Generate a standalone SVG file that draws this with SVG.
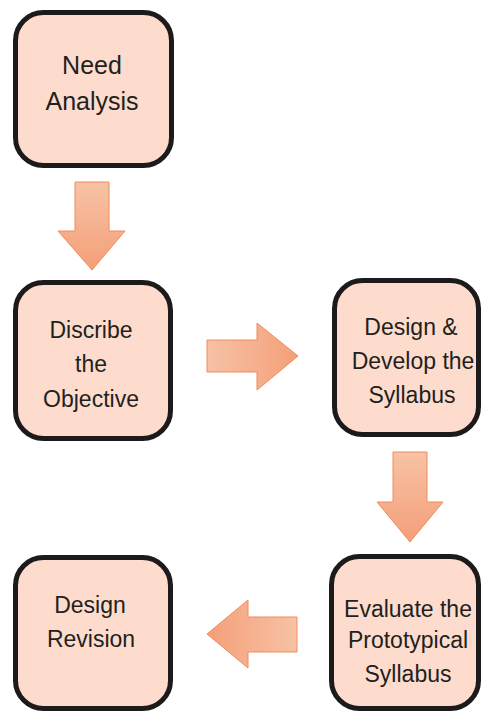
<svg xmlns="http://www.w3.org/2000/svg" width="481" height="712" viewBox="0 0 481 712">
<defs>
<linearGradient id="gDown" x1="0" y1="0" x2="0" y2="1">
<stop offset="0" stop-color="#f7c2a6"/>
<stop offset="1" stop-color="#f49f78"/>
</linearGradient>
<linearGradient id="gRight" x1="0" y1="0" x2="1" y2="0">
<stop offset="0" stop-color="#f7c2a6"/>
<stop offset="1" stop-color="#f49f78"/>
</linearGradient>
<linearGradient id="gLeft" x1="1" y1="0" x2="0" y2="0">
<stop offset="0" stop-color="#f7c2a6"/>
<stop offset="1" stop-color="#f49f78"/>
</linearGradient>
</defs>
<style>
.box{fill:#fddccd;stroke:#1c1a1a;stroke-width:5}
.t{font-family:"Liberation Sans",Arial,sans-serif;font-size:23px;fill:#231f20;text-anchor:middle}
.big{font-size:25px}
.arr{stroke:#f08c5c;stroke-width:1}
</style>
<g id="connectors">
<polygon class="arr" fill="url(#gDown)" points="75,182 109,182 109,231 125,231 92,270 58,231 75,231"/>
<polygon class="arr" fill="url(#gRight)" points="207,340 257,340 257,323 298,356 257,390 257,372 207,372"/>
<polygon class="arr" fill="url(#gDown)" points="393,452 427,452 427,502 443,502 410,542 377,502 393,502"/>
<polygon class="arr" fill="url(#gLeft)" points="297,617 248,617 248,600 207,634 248,668 248,652 297,652"/>
</g>
<g id="need-analysis">
<rect class="box" x="15.5" y="12.5" width="156" height="153" rx="28"/>
<text class="t big" x="92" y="74">Need</text>
<text class="t big" x="92" y="110">Analysis</text>
</g>
<g id="describe-objective">
<rect class="box" x="15.5" y="282.5" width="155" height="156" rx="28"/>
<text class="t" x="91" y="338">Discribe</text>
<text class="t" x="91" y="372">the</text>
<text class="t" x="91" y="407">Objective</text>
</g>
<g id="design-develop">
<rect class="box" x="334.5" y="280.5" width="144" height="154" rx="28"/>
<text class="t" x="411" y="335">Design &amp;</text>
<text class="t" x="413" y="369">Develop the</text>
<text class="t" x="412" y="403">Syllabus</text>
</g>
<g id="evaluate">
<rect class="box" x="331.5" y="556.5" width="147" height="152" rx="28"/>
<text class="t" x="408" y="617">Evaluate the</text>
<text class="t" x="408" y="648">Prototypical</text>
<text class="t" x="408" y="682">Syllabus</text>
</g>
<g id="design-revision">
<rect class="box" x="15.5" y="557.5" width="155" height="151" rx="28"/>
<text class="t" x="90" y="613">Design</text>
<text class="t" x="91" y="647">Revision</text>
</g>
</svg>
